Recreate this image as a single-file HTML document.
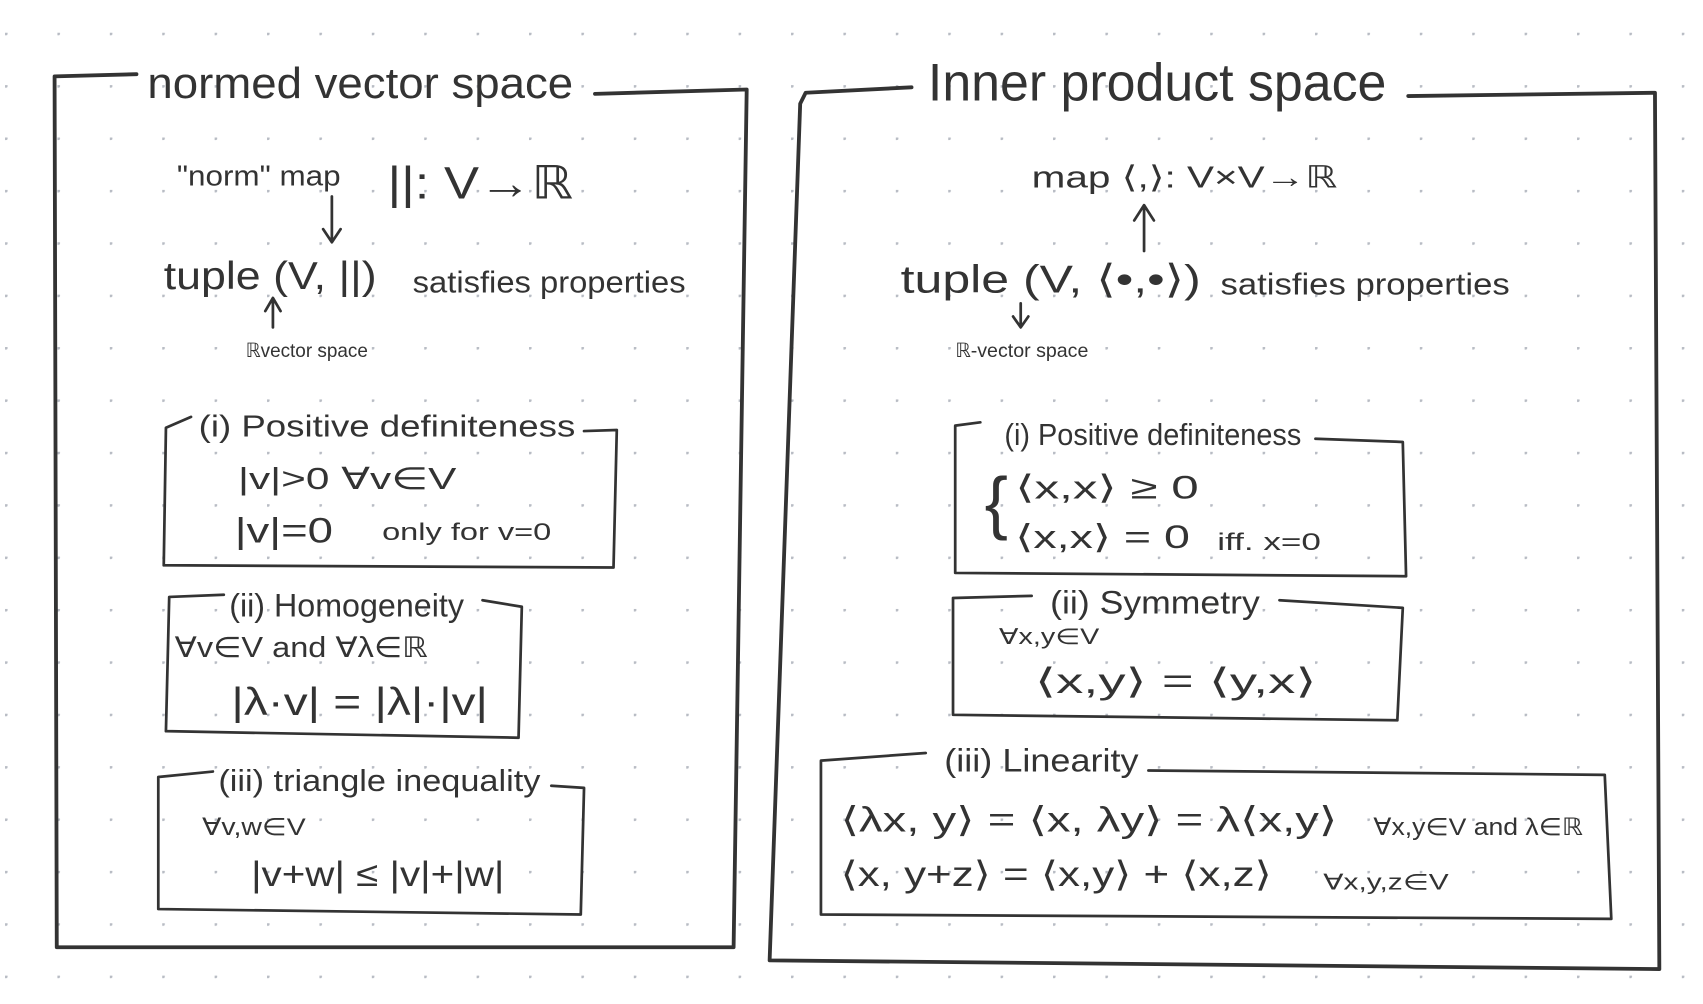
<!DOCTYPE html>
<html><head><meta charset="utf-8"><style>
html,body{margin:0;padding:0;background:#fff;}
svg{display:block}
text{font-family:"Liberation Sans","DejaVu Sans",sans-serif;fill:#333;}
</style></head><body>
<svg width="1703" height="1004" viewBox="0 0 1560 920" preserveAspectRatio="none" xmlns="http://www.w3.org/2000/svg">
<defs><pattern id="d" x="4.6" y="30" width="48" height="48" patternUnits="userSpaceOnUse"><circle cx="0.8" cy="0.8" r="1.6" fill="#b8bcc4"/></pattern></defs>
<rect width="1560" height="920" fill="#fff"/>
<rect width="1560" height="920" fill="url(#d)"/>
<g fill="none" stroke="#333" stroke-width="3.5" stroke-linecap="round" stroke-linejoin="round">
<path d="M125 68 L50 70 L52 868 L672 868 L684 82 L545 86"/>
<path d="M835 80 L738 85 L733 95 L705 880 L1520 888 L1516 85 L1290 88"/>
</g>
<g fill="none" stroke="#333" stroke-width="2.5" stroke-linecap="round" stroke-linejoin="round">
<path d="M175 382 L152 392 L150 518 L562 520 L565 394 L535 395"/>
<path d="M205 545 L155 547 L152 670 L475 676 L478 556 L442 550"/>
<path d="M195 707 L145 712 L145 833 L532 838 L535 722 L505 720"/>
<path d="M898 387 L875 390 L875 525 L1288 528 L1285 405 L1205 402"/>
<path d="M945 546 L873 548 L873 655 L1280 660 L1285 557 L1172 550"/>
<path d="M848 690 L752 697 L752 838 L1476 842 L1470 710 L1052 706"/>
<path d="M304 180 L304 220 M296 210 L304 222 L312 210"/>
<path d="M250 300 L250 275 M243 285 L250 273 L257 285"/>
<path d="M1048 230 L1048 190 M1039 202 L1048 188 L1057 202"/>
<path d="M935 278 L935 298 M928 290 L935 300 L942 290"/>
</g>
<text x="135" y="90" font-size="40" textLength="390" lengthAdjust="spacingAndGlyphs">normed vector space</text>
<text x="850" y="92" font-size="48" textLength="420" lengthAdjust="spacingAndGlyphs">Inner product space</text>
<text x="162" y="170" font-size="26" textLength="150" lengthAdjust="spacingAndGlyphs">"norm" map</text>
<text x="355" y="182" font-size="42" textLength="170" lengthAdjust="spacingAndGlyphs">||: V→ℝ</text>
<text x="150" y="265" font-size="36" textLength="195" lengthAdjust="spacingAndGlyphs">tuple (V, ||)</text>
<text x="378" y="268" font-size="28" textLength="250" lengthAdjust="spacingAndGlyphs">satisfies properties</text>
<text x="225" y="327" font-size="18" textLength="112" lengthAdjust="spacingAndGlyphs">ℝvector space</text>
<text x="945" y="172" font-size="28" textLength="280" lengthAdjust="spacingAndGlyphs">map ⟨,⟩: V×V→ℝ</text>
<text x="825" y="268" font-size="36" textLength="275" lengthAdjust="spacingAndGlyphs">tuple (V, ⟨•,•⟩)</text>
<text x="1118" y="270" font-size="28" textLength="265" lengthAdjust="spacingAndGlyphs">satisfies properties</text>
<text x="875" y="327" font-size="18" textLength="122" lengthAdjust="spacingAndGlyphs">ℝ-vector space</text>
<text x="182" y="400" font-size="28" textLength="345" lengthAdjust="spacingAndGlyphs">(i) Positive definiteness</text>
<text x="218" y="448" font-size="28" textLength="200" lengthAdjust="spacingAndGlyphs">|v|&gt;0    ∀v∈V</text>
<text x="215" y="497" font-size="32" textLength="90" lengthAdjust="spacingAndGlyphs">|v|=0</text>
<text x="350" y="495" font-size="22" textLength="155" lengthAdjust="spacingAndGlyphs">only for v=0</text>
<text x="210" y="565" font-size="30" textLength="215" lengthAdjust="spacingAndGlyphs">(ii) Homogeneity</text>
<text x="160" y="602" font-size="26" textLength="232" lengthAdjust="spacingAndGlyphs">∀v∈V and ∀λ∈ℝ</text>
<text x="212" y="655" font-size="36" textLength="235" lengthAdjust="spacingAndGlyphs">|λ·v| = |λ|·|v|</text>
<text x="200" y="725" font-size="28" textLength="295" lengthAdjust="spacingAndGlyphs">(iii) triangle inequality</text>
<text x="185" y="765" font-size="22" textLength="95" lengthAdjust="spacingAndGlyphs">∀v,w∈V</text>
<text x="230" y="812" font-size="32" textLength="232" lengthAdjust="spacingAndGlyphs">|v+w| ≤ |v|+|w|</text>
<text x="920" y="408" font-size="28" textLength="272" lengthAdjust="spacingAndGlyphs">(i) Positive definiteness</text>
<text x="902" y="482" font-size="64" font-weight="100">{</text>
<text x="930" y="457" font-size="30" textLength="168" lengthAdjust="spacingAndGlyphs">⟨x,x⟩ ≥ 0</text>
<text x="930" y="502" font-size="30" textLength="160" lengthAdjust="spacingAndGlyphs">⟨x,x⟩ = 0</text>
<text x="1115" y="504" font-size="22" textLength="95" lengthAdjust="spacingAndGlyphs">iff.  x=0</text>
<text x="962" y="562" font-size="30" textLength="192" lengthAdjust="spacingAndGlyphs">(ii) Symmetry</text>
<text x="915" y="590" font-size="20" textLength="92" lengthAdjust="spacingAndGlyphs">∀x,y∈V</text>
<text x="948" y="635" font-size="32" textLength="258" lengthAdjust="spacingAndGlyphs">⟨x,y⟩ = ⟨y,x⟩</text>
<text x="865" y="707" font-size="30" textLength="178" lengthAdjust="spacingAndGlyphs">(iii) Linearity</text>
<text x="770" y="762" font-size="32" textLength="455" lengthAdjust="spacingAndGlyphs">⟨λx, y⟩ = ⟨x, λy⟩ = λ⟨x,y⟩</text>
<text x="1258" y="765" font-size="22" textLength="192" lengthAdjust="spacingAndGlyphs">∀x,y∈V and λ∈ℝ</text>
<text x="770" y="812" font-size="32" textLength="395" lengthAdjust="spacingAndGlyphs">⟨x, y+z⟩ = ⟨x,y⟩ + ⟨x,z⟩</text>
<text x="1212" y="815" font-size="20" textLength="115" lengthAdjust="spacingAndGlyphs">∀x,y,z∈V</text>
</svg>
</body></html>
